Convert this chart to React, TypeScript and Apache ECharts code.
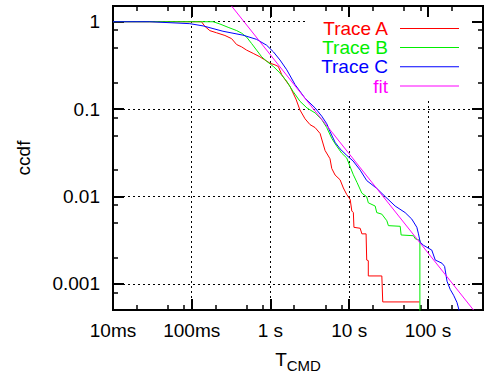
import React, { useEffect, useRef } from 'react';
import * as echarts from 'echarts';

// ---- data (time in seconds, ccdf) ----
const traceA: [number, number][] = [
  [0.01, 1], [0.133, 1], [0.147, 0.885], [0.17, 0.79], [0.207, 0.747], [0.264, 0.696],
  [0.321, 0.64], [0.372, 0.548], [0.431, 0.515], [0.498, 0.473], [0.604, 0.434],
  [0.734, 0.397], [0.851, 0.365], [0.986, 0.335], [1.14, 0.321], [1.26, 0.307],
  [1.39, 0.248], [1.53, 0.218], [1.77, 0.182], [2.11, 0.13], [2.37, 0.0977],
  [2.75, 0.0774], [3.18, 0.0664], [3.69, 0.0614], [4.27, 0.0526], [4.94, 0.0336],
  [5.71, 0.027], [6.01, 0.0209], [6.62, 0.0176], [7.67, 0.0155], [8.44, 0.0125],
  [9.32, 0.0105], [10.3, 0.00923], [10.8, 0.00682], [11.3, 0.00653], [11.5, 0.00443],
  [13.8, 0.00432], [14.5, 0.00373], [16.4, 0.00373], [16.7, 0.00187], [17.5, 0.00184],
  [17.5, 0.00123], [26.0, 0.00123], [26.7, 0.00062], [78.2, 0.00062],
];

const traceB: [number, number][] = [
  [0.01, 1], [0.187, 1], [0.228, 0.942], [0.29, 0.863], [0.372, 0.792], [0.431, 0.739],
  [0.498, 0.667], [0.577, 0.562], [0.667, 0.473], [0.773, 0.397], [0.895, 0.353],
  [1.09, 0.307], [1.32, 0.259], [1.61, 0.208], [1.93, 0.16], [2.37, 0.123], [2.91, 0.103],
  [3.69, 0.0904], [4.48, 0.076], [5.19, 0.0614], [6.01, 0.0462], [6.95, 0.0376],
  [8.05, 0.0313], [9.32, 0.0275], [10.3, 0.0218], [11.3, 0.0177], [12.6, 0.0144],
  [14.5, 0.0109], [16.7, 0.00992], [17.5, 0.00846], [21.4, 0.00776], [22.4, 0.00653],
  [26.0, 0.00627], [30.1, 0.00527], [31.5, 0.00463], [44.5, 0.00455], [45.7, 0.00362],
  [65.6, 0.00355], [68.9, 0.00328], [79.1, 0.00314], [79.1, 0.0001],
];

const traceC: [number, number][] = [
  [0.01, 1], [0.0293, 1], [0.0946, 0.95], [0.14, 0.895], [0.249, 0.778], [0.447, 0.702],
  [0.667, 0.628], [0.895, 0.538], [1.09, 0.452], [1.32, 0.365], [1.61, 0.282],
  [2.05, 0.191], [2.75, 0.133], [3.69, 0.103], [4.48, 0.083], [5.19, 0.068],
  [5.71, 0.0553], [6.62, 0.0417], [7.67, 0.035], [9.32, 0.0295], [11.2, 0.0255],
  [13.8, 0.02], [16.7, 0.0152], [22.4, 0.01236], [28.6, 0.00998], [38.4, 0.00776],
  [51.4, 0.00653], [62.5, 0.0055], [72.4, 0.00443], [75.9, 0.00373], [79.8, 0.003],
  [87.9, 0.00276], [112, 0.00243], [124, 0.00187], [151, 0.00172], [163, 0.00158],
  [175, 0.00107], [192, 0.000863], [212, 0.00074], [234, 0.000612], [250, 0.000492],
];

const fitLine: [number, number][] = [
  [0.321, 1.51], [380, 0.0005],
];

const seriesNames = ['Trace A', 'Trace B', 'Trace C', 'fit'];
const seriesColors = ['#ff0000', '#00ee00', '#0000ff', '#ff00ff'];

const xMajorTicks = [0.01, 0.1, 1, 10, 100];
const xMajorLabels = ['10ms', '100ms', '1 s', '10 s', '100 s'];
const xMinorTicks = [0.02, 0.05, 0.08, 0.2, 0.5, 0.8, 2, 5, 8, 20, 50, 80, 200];
const yMajorTicks = [0.001, 0.01, 0.1, 1];
const yMajorLabels = ['0.001', '0.01', '0.1', '1'];
const yMinorTicks = [0.0008, 0.002, 0.005, 0.008, 0.02, 0.05, 0.08, 0.2, 0.5, 0.8];

const FONT = 'Liberation Sans, Arial, sans-serif';
const X_MIN = -2;
const X_MAX = 2.7;
const Y_MIN = -3.3;
const Y_MAX = 0.18;

const lg = (v: number) => Math.log10(v);
const toLog = (pts: [number, number][]) => pts.map(([x, y]) => [lg(x), lg(y)]);

const labelFor = (ticks: number[], labels: string[]) => (v: number) => {
  const i = ticks.findIndex((t) => Math.abs(lg(t) - v) < 1e-6);
  return i >= 0 ? labels[i] : '';
};

function tickAxis(position: string, min: number, max: number, values: number[], length: number, width: number, z: number) {
  return {
    type: 'value',
    position,
    min,
    max,
    z,
    axisLine: { show: false, onZero: false },
    axisTick: {
      show: true,
      inside: true,
      length,
      customValues: values.map(lg),
      lineStyle: { color: '#000', width },
    },
    axisLabel: { show: false },
    splitLine: { show: false },
  };
}

export default function App() {
  const ref = useRef<HTMLDivElement>(null);

  useEffect(() => {
    document.body.style.margin = '0';
    if (!ref.current) return;
    const chart = echarts.init(ref.current, undefined, { renderer: 'svg' });

    const gridLine = { show: true, lineStyle: { color: '#000', width: 1, type: [2, 3] } };

    const option: any = {
      animation: false,
      textStyle: { fontFamily: FONT },
      grid: {
        left: 113, right: 7, top: 6, bottom: 62,
        show: true, borderColor: '#000', borderWidth: 2, backgroundColor: 'transparent',
      },
      graphic: [
        {
          type: 'rect',
          shape: { x: 307, y: 7, width: 163, height: 92 },
          style: { fill: '#ffffff' },
          z: 1,
          silent: true,
        },
      ],
      xAxis: [
        {
          type: 'value',
          position: 'bottom',
          min: X_MIN,
          max: X_MAX,
          name: '{a|T}{b|CMD}',
          nameLocation: 'middle',
          nameGap: 36,
          nameTextStyle: {
            rich: {
              a: { fontSize: 19, color: '#000', fontFamily: FONT },
              b: { fontSize: 15, color: '#000', fontFamily: FONT, padding: [12, 0, 0, 0] },
            },
          },
          axisLine: { show: false, onZero: false },
          axisTick: {
            show: true, inside: true, length: 11,
            customValues: xMajorTicks.map(lg),
            lineStyle: { color: '#000', width: 2 },
          },
          axisLabel: {
            customValues: xMajorTicks.map(lg),
            formatter: labelFor(xMajorTicks, xMajorLabels),
            margin: 11, fontSize: 19, color: '#000', fontFamily: FONT,
          },
          splitLine: gridLine,
        },
        tickAxis('bottom', X_MIN, X_MAX, xMinorTicks, 5, 1.5, 0),
        tickAxis('top', X_MIN, X_MAX, xMajorTicks, 11, 2, 3),
        tickAxis('top', X_MIN, X_MAX, xMinorTicks, 5, 1.5, 3),
      ],
      yAxis: [
        {
          type: 'value',
          position: 'left',
          min: Y_MIN,
          max: Y_MAX,
          name: 'ccdf',
          nameLocation: 'middle',
          nameGap: 80,
          nameTextStyle: { fontSize: 19, color: '#000', fontFamily: FONT },
          axisLine: { show: false, onZero: false },
          axisTick: {
            show: true, inside: true, length: 11,
            customValues: yMajorTicks.map(lg),
            lineStyle: { color: '#000', width: 2 },
          },
          axisLabel: {
            customValues: yMajorTicks.map(lg),
            formatter: labelFor(yMajorTicks, yMajorLabels),
            margin: 13, fontSize: 19, color: '#000', fontFamily: FONT,
          },
          splitLine: gridLine,
        },
        tickAxis('left', Y_MIN, Y_MAX, yMinorTicks, 5, 1.5, 0),
        tickAxis('right', Y_MIN, Y_MAX, yMajorTicks, 11, 2, 3),
        tickAxis('right', Y_MIN, Y_MAX, yMinorTicks, 5, 1.5, 3),
      ],
      legend: seriesNames.map((name, i) => ({
        data: [name],
        orient: 'vertical',
        right: 31,
        top: [19, 38, 57.3, 76.5][i],
        align: 'right',
        padding: 0,
        icon: 'rect',
        itemWidth: 59,
        itemHeight: 1,
        selectedMode: false,
        textStyle: { color: seriesColors[i], fontSize: 19, fontFamily: FONT, padding: [0, 7, 0, 0] },
      })),
      series: [traceA, traceB, traceC, fitLine].map((d, i) => ({
        name: seriesNames[i],
        type: 'line',
        data: toLog(d),
        symbol: 'none',
        showSymbol: false,
        xAxisIndex: 0,
        yAxisIndex: 0,
        z: 2 + i,
        lineStyle: { color: seriesColors[i], width: 1 },
        itemStyle: { color: seriesColors[i] },
      })),
    };

    chart.setOption(option);
    return () => chart.dispose();
  }, []);

  return (
    <div
      ref={ref}
      style={{ position: 'absolute', left: 0, top: 0, width: 490, height: 378, background: '#fff' }}
    />
  );
}
